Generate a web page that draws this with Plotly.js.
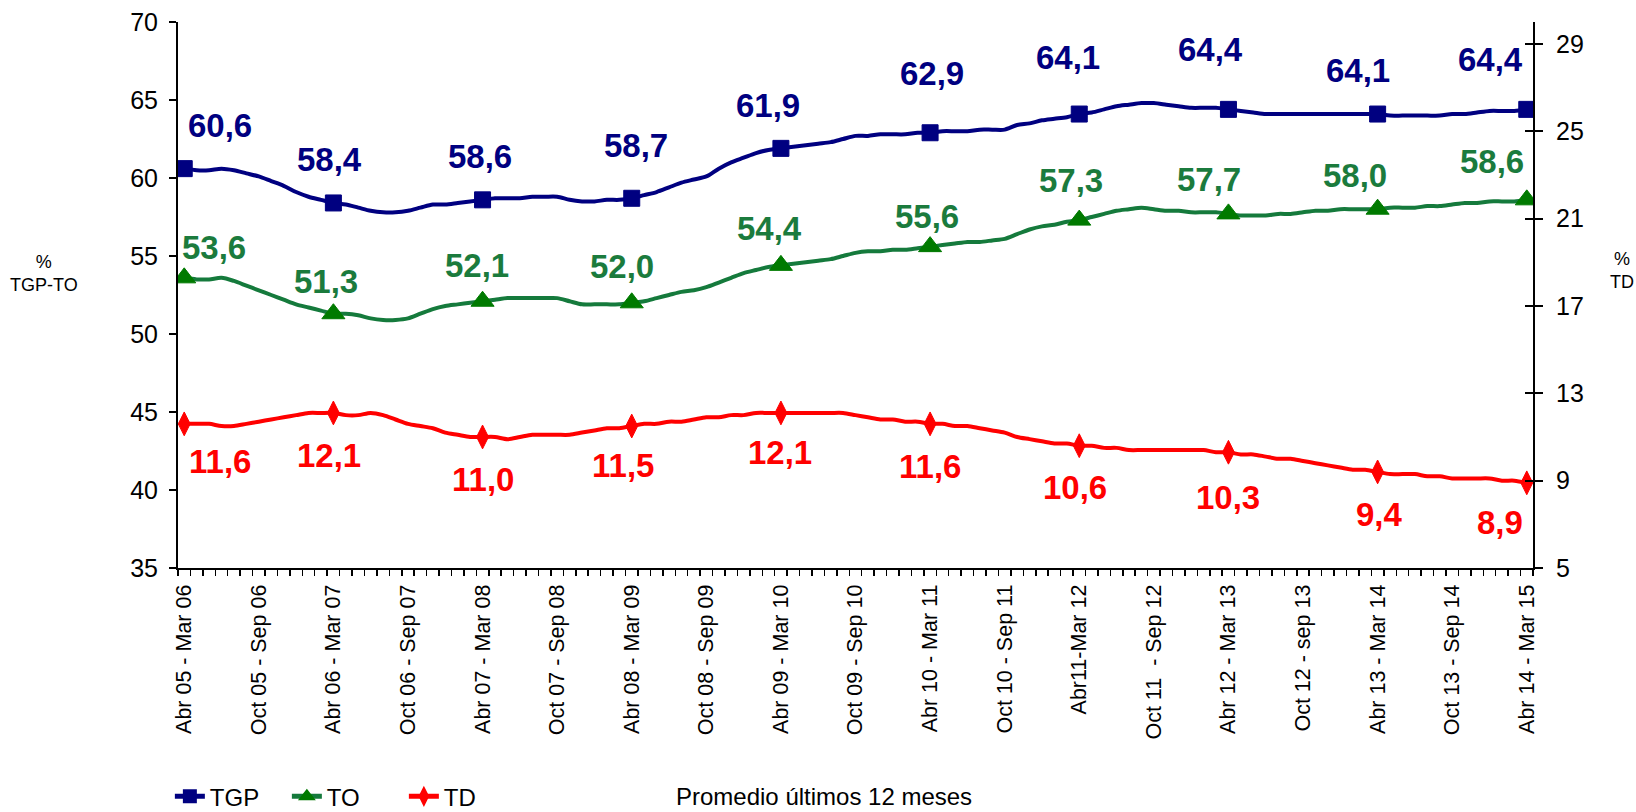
<!DOCTYPE html>
<html><head><meta charset="utf-8">
<script src="https://cdn.plot.ly/plotly-3.0.1.min.js"></script>
<style>html,body{margin:0;padding:0;background:#fff;} #chart{width:1636px;height:812px;}</style>
</head><body><div id="chart"></div>
<script>
// Promedio móvil de 12 meses, Abr 05 - Mar 06 ... Abr 14 - Mar 15 (109 meses)
const tgp = [
  60.6,60.5,60.5,60.6,60.5,60.3,60.1,59.8,59.5,59.1,58.8,58.6,
  58.4,58.3,58.1,57.9,57.8,57.8,57.9,58.1,58.3,58.3,58.4,58.5,
  58.6,58.7,58.7,58.7,58.8,58.8,58.8,58.6,58.5,58.5,58.6,58.6,
  58.7,58.9,59.1,59.4,59.7,59.9,60.1,60.6,61.0,61.3,61.6,61.8,
  61.9,62.0,62.1,62.2,62.3,62.5,62.7,62.7,62.8,62.8,62.8,62.9,
  62.9,63.0,63.0,63.0,63.1,63.1,63.1,63.4,63.5,63.7,63.8,63.9,
  64.1,64.2,64.4,64.6,64.7,64.8,64.8,64.7,64.6,64.5,64.5,64.5,
  64.4,64.3,64.2,64.1,64.1,64.1,64.1,64.1,64.1,64.1,64.1,64.1,
  64.1,64.0,64.0,64.0,64.0,64.0,64.1,64.1,64.2,64.3,64.3,64.3,
  64.4];
const to = [
  53.6,53.5,53.5,53.6,53.4,53.1,52.8,52.5,52.2,51.9,51.7,51.5,
  51.3,51.3,51.2,51.0,50.9,50.9,51.0,51.3,51.6,51.8,51.9,52.0,
  52.1,52.2,52.3,52.3,52.3,52.3,52.3,52.1,51.9,51.9,51.9,51.9,
  52.0,52.1,52.3,52.5,52.7,52.8,53.0,53.3,53.6,53.9,54.1,54.3,
  54.4,54.5,54.6,54.7,54.8,55.0,55.2,55.3,55.3,55.4,55.4,55.5,
  55.6,55.7,55.8,55.9,55.9,56.0,56.1,56.4,56.7,56.9,57.0,57.2,
  57.3,57.5,57.7,57.9,58.0,58.1,58.0,57.9,57.9,57.8,57.8,57.8,
  57.7,57.6,57.6,57.6,57.7,57.7,57.8,57.9,57.9,58.0,58.0,58.0,
  58.0,58.1,58.1,58.1,58.2,58.2,58.3,58.4,58.4,58.5,58.5,58.5,
  58.6];
const td = [
  11.6,11.6,11.6,11.5,11.5,11.6,11.7,11.8,11.9,12.0,12.1,12.1,
  12.1,12.0,12.0,12.1,12.0,11.8,11.6,11.5,11.4,11.2,11.1,11.0,
  11.0,11.0,10.9,11.0,11.1,11.1,11.1,11.1,11.2,11.3,11.4,11.4,
  11.5,11.6,11.6,11.7,11.7,11.8,11.9,11.9,12.0,12.0,12.1,12.1,
  12.1,12.1,12.1,12.1,12.1,12.1,12.0,11.9,11.8,11.8,11.7,11.7,
  11.6,11.6,11.5,11.5,11.4,11.3,11.2,11.0,10.9,10.8,10.7,10.7,
  10.6,10.6,10.5,10.5,10.4,10.4,10.4,10.4,10.4,10.4,10.4,10.3,
  10.3,10.2,10.2,10.1,10.0,10.0,9.9,9.8,9.7,9.6,9.5,9.5,
  9.4,9.3,9.3,9.3,9.2,9.2,9.1,9.1,9.1,9.1,9.0,9.0,
  8.9];
const tickLabels = [
  "Abr 05 - Mar 06","Oct 05 - Sep 06","Abr 06 - Mar 07","Oct 06 - Sep 07",
  "Abr 07 - Mar 08","Oct 07 - Sep 08","Abr 08 - Mar 09","Oct 08 - Sep 09",
  "Abr 09 - Mar 10","Oct 09 - Sep 10","Abr 10 - Mar 11","Oct 10 - Sep 11",
  "Abr11-Mar 12","Oct 11 \u00a0- Sep 12","Abr 12 - Mar 13","Oct 12 - sep 13",
  "Abr 13 - Mar 14","Oct 13 - Sep 14","Abr 14 - Mar 15"];
const seriesNames = ["TGP","TO","TD"];

// ---- layout / style config ----
const FONT = "Liberation Sans, Arial, sans-serif";
const n = tgp.length;
const xIdx = tgp.map((_, i) => i);
const markStep = 12, labelStep = 6;
const markIdx = xIdx.filter(i => i % markStep === 0);
const tickVals = xIdx.filter(i => i % labelStep === 0);
const minorVals = [];
for (let i = 0; i <= n; i++) minorVals.push(i - 0.5);
const sizes = s => xIdx.map(i => i % markStep === 0 ? s : 0);

const colTGP = "#000080", colTOline = "#157a3c", colTOmark = "#007a00", colTOlab = "#1b7b3d", colTD = "#ff0000";

// label nudges in px [dx, up]
const tgpShift = [[36,43],[-4,43],[-3,43],[4,53],[-13,43],[2,59],[-11,57],[-18,60],[-20,44],[-36,50]];
const toShift  = [[30,30],[-7,32],[-6,36],[-10,36],[-11,37],[-3,30],[-8,40],[-19,34],[-23,34],[-35,38]];
const tdShift  = [[36,-38],[-4,-43],[0,-43],[-9,-39],[-1,-40],[0,-43],[-4,-42],[0,-45],[2,-43],[-27,-40]];

const traces = [
  {x: xIdx, y: tgp, name: seriesNames[0], type: "scatter", mode: "lines+markers",
   line: {color: colTGP, width: 4, shape: "spline", smoothing: 0.8},
   marker: {symbol: "square", size: sizes(16), color: colTGP, opacity: 1, line: {color: colTGP, width: 1}},
   yaxis: "y", hoverinfo: "skip"},
  {x: xIdx, y: to, name: seriesNames[1], type: "scatter", mode: "lines+markers",
   line: {color: colTOline, width: 4, shape: "spline", smoothing: 0.8},
   marker: {symbol: "triangle-up", size: sizes(20), color: colTOmark, opacity: 1, line: {color: colTOmark, width: 1}},
   yaxis: "y", hoverinfo: "skip"},
  {x: xIdx, y: td, name: seriesNames[2], type: "scatter", mode: "lines+markers",
   line: {color: colTD, width: 4, shape: "spline", smoothing: 0.8},
   marker: {symbol: "diamond-tall", size: sizes(17), color: colTD, opacity: 1, line: {color: colTD, width: 1}},
   yaxis: "y2", hoverinfo: "skip"}
];

const fmt = v => v.toFixed(1).replace(".", ",");
const annotations = [];
function addLabels(arr, shifts, color, yref) {
  markIdx.forEach((i, k) => {
    annotations.push({x: i, y: arr[i], xref: "x", yref: yref, text: "<b>" + fmt(arr[i]) + "</b>",
      showarrow: false, xanchor: "center", yanchor: "middle",
      xshift: shifts[k][0], yshift: shifts[k][1],
      font: {family: FONT, size: 33, color: color}});
  });
}
addLabels(tgp, tgpShift, colTGP, "y");
addLabels(to, toShift, colTOlab, "y");
addLabels(td, tdShift, colTD, "y2");

annotations.push({xref: "paper", yref: "paper", x: -0.099, y: 0.54, text: "%<br>TGP-TO",
  showarrow: false, xanchor: "center", yanchor: "middle", font: {family: FONT, size: 18, color: "#000"}});
annotations.push({xref: "paper", yref: "paper", x: 1.0655, y: 0.544, text: "%<br>TD",
  showarrow: false, xanchor: "center", yanchor: "middle", font: {family: FONT, size: 18, color: "#000"}});
annotations.push({xref: "paper", yref: "paper", x: 0.366, y: -0.419, text: "Promedio últimos 12 meses",
  showarrow: false, xanchor: "left", yanchor: "middle", font: {family: FONT, size: 24, color: "#000"}});

const layout = {
  width: 1636, height: 812,
  margin: {l: 178, r: 103, t: 22, b: 244, autoexpand: false},
  paper_bgcolor: "#fff", plot_bgcolor: "#fff",
  font: {family: FONT, color: "#000"},
  showlegend: true,
  legend: {orientation: "h", x: -0.006, y: -0.419, xanchor: "left", yanchor: "middle",
           font: {family: FONT, size: 24, color: "#000"}, itemsizing: "constant",
           entrywidth: 72, bgcolor: "rgba(0,0,0,0)", tracegroupgap: 0},
  xaxis: {range: [-0.5, n - 0.5], tickmode: "array", tickvals: tickVals, ticktext: tickLabels,
          tickangle: -90, ticks: "", showgrid: false, zeroline: false,
          showline: true, linecolor: "#000", linewidth: 2, ticklabelstandoff: 6,
          tickfont: {family: FONT, size: 21.5, color: "#000"},
          minor: {tickmode: "array", tickvals: minorVals, ticks: "outside", ticklen: 6,
                  tickwidth: 1.5, tickcolor: "#000", showgrid: false}},
  yaxis: {range: [35, 70], dtick: 5, tick0: 35, showgrid: false, zeroline: false,
          showline: true, linecolor: "#000", linewidth: 2, ticks: "outside", ticklen: 7,
          tickwidth: 2, tickcolor: "#000", ticklabelstandoff: 6,
          tickfont: {family: FONT, size: 25, color: "#000"}},
  yaxis2: {range: [5, 30], tickvals: [5, 9, 13, 17, 21, 25, 29], overlaying: "y", side: "right",
           anchor: "x", showgrid: false, zeroline: false, showline: true, linecolor: "#000",
           linewidth: 2, ticks: "outside", ticklen: 8, tickwidth: 2, tickcolor: "#000",
           ticklabelstandoff: 8, tickfont: {family: FONT, size: 25, color: "#000"}},
  yaxis3: {range: [5, 30], tickvals: [5, 9, 13, 17, 21, 25, 29], overlaying: "y", side: "right",
           anchor: "x", showgrid: false, zeroline: false, showline: false, ticks: "inside",
           ticklen: 8, tickwidth: 2, tickcolor: "#000", showticklabels: false},
  annotations: annotations
};
// invisible trace to show yaxis3 cross ticks
traces.push({x: [0], y: [5], yaxis: "y3", mode: "markers", marker: {opacity: 0}, showlegend: false, hoverinfo: "skip"});

Plotly.newPlot("chart", traces, layout, {displayModeBar: false, staticPlot: true});
</script>
</body></html>
